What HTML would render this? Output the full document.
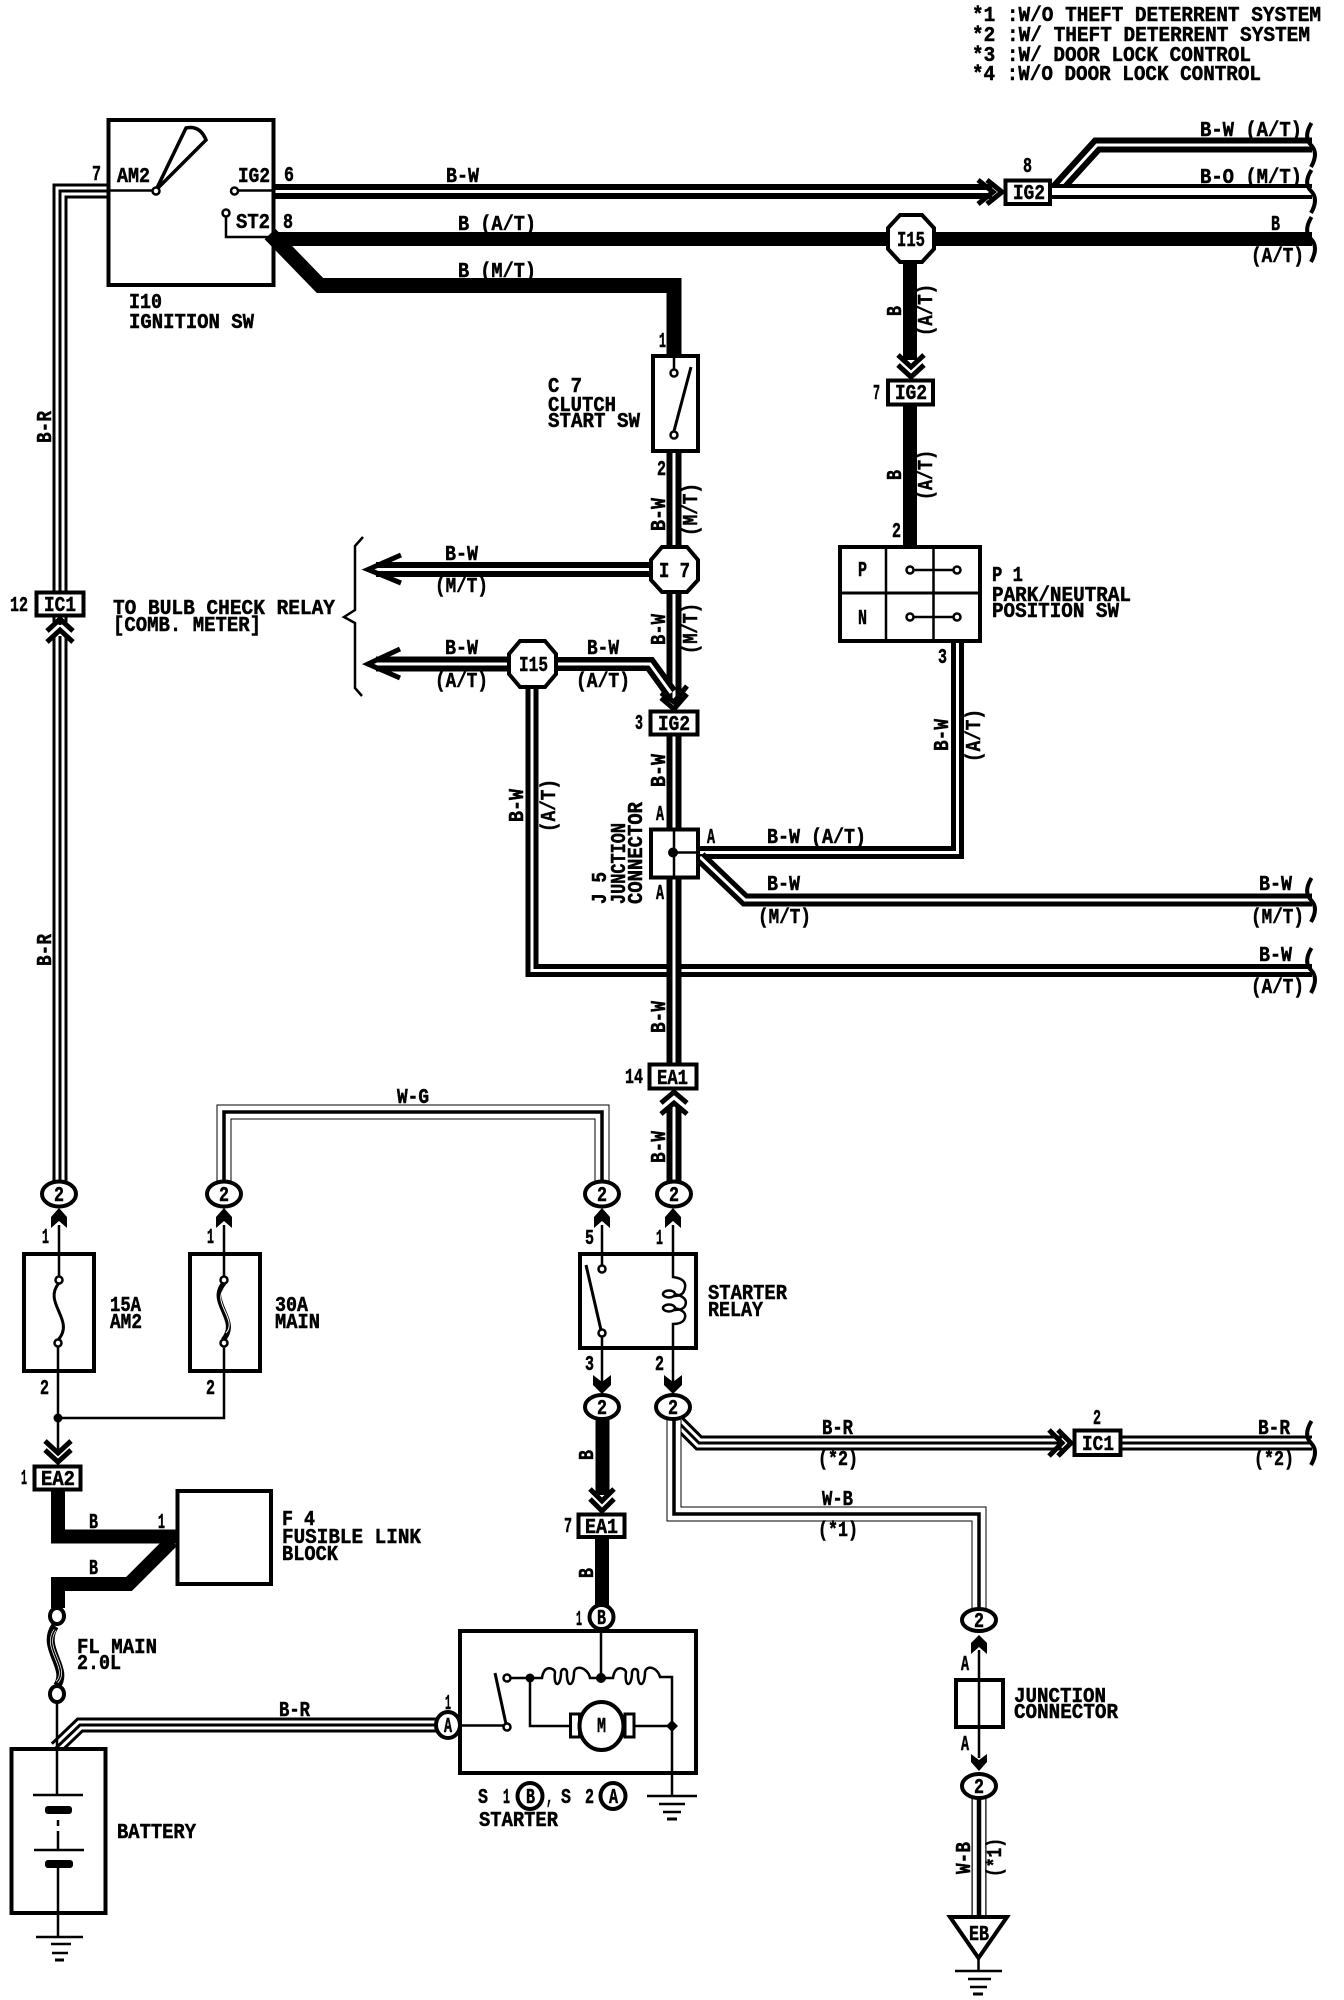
<!DOCTYPE html>
<html>
<head>
<meta charset="utf-8">
<style>
html,body{margin:0;padding:0;background:#fff;width:1344px;height:2000px;overflow:hidden}
svg{display:block}
text{font-family:"Liberation Mono","DejaVu Sans Mono",monospace;font-weight:bold;font-size:21px;fill:#000;stroke:#000;stroke-width:.5}
path,line,polyline{fill:none;stroke:#000;stroke-linejoin:miter}
.w{stroke:#fff}
.box{fill:#fff;stroke:#000;stroke-width:4}
.c{fill:#fff;stroke:#000;stroke-width:4}
.d{fill:#000;stroke:none}
</style>
</head>
<body>
<svg xmlns="http://www.w3.org/2000/svg" width="1344" height="2000" viewBox="0 0 1344 2000">
<rect width="1344" height="2000" fill="#fff"/>

<!-- WIRES -->
<path stroke-width="15" d="M108,191 H60 V625"/><path class="w" stroke-width="9" d="M108,191 H60 V625"/><path stroke-width="3" d="M108,191 H60 V625"/>
<path stroke-width="15" d="M60,636 V1184"/><path class="w" stroke-width="9" d="M60,636 V1184"/><path stroke-width="3" d="M60,636 V1184"/>
<path stroke-width="15" d="M274,191.5 H992"/><path class="w" stroke-width="3" d="M274,191.5 H992"/>
<path stroke-width="15" d="M1056,190 L1097,145 H1312"/><path class="w" stroke-width="3" d="M1056,190 L1097,145 H1312"/>
<path stroke-width="15" d="M1050,191.5 H1312"/><path class="w" stroke-width="7" d="M1050,191.5 H1312"/>
<path stroke-width="14" d="M274,239 H1312"/>
<path stroke-width="15" d="M270,234 L320,285.5 H674 V356"/>
<path stroke-width="14" d="M910,262 V360"/>
<path stroke-width="14" d="M910,405 V546"/>
<path stroke-width="13" d="M532,686 V970.5 H1312"/><path class="w" stroke-width="3" d="M532,686 V970.5 H1312"/>
<path stroke-width="15" d="M674,450 V546"/><path class="w" stroke-width="3" d="M674,450 V546"/>
<path stroke-width="15" d="M674,592 V700"/><path class="w" stroke-width="3" d="M674,592 V700"/>
<path stroke-width="15" d="M674,735 V829"/><path class="w" stroke-width="3" d="M674,735 V829"/>
<path stroke-width="15" d="M674,877 V1064"/><path class="w" stroke-width="3" d="M674,877 V1064"/>
<path stroke-width="15" d="M674,1106 V1182"/><path class="w" stroke-width="3" d="M674,1106 V1182"/>
<path stroke-width="15" d="M376,569.5 H650"/><path class="w" stroke-width="3" d="M372,569.5 H650"/>
<path stroke-width="15" d="M376,664 H510"/><path class="w" stroke-width="3" d="M372,664 H510"/>
<path stroke-width="14" d="M556,664 H650 L671,693"/><path class="w" stroke-width="3" d="M556,664 H650 L671,693"/>
<path stroke-width="13" d="M699,852.5 H957.5 V640"/><path class="w" stroke-width="3" d="M699,852.5 H957.5 V640"/>
<path stroke-width="13" d="M700,857 L745,900 H1312"/><path class="w" stroke-width="3" d="M700,857 L745,900 H1312"/>
<path stroke-width="15" d="M224,1185 V1112 H602 V1185"/><path class="w" stroke-width="13" d="M224,1185 V1112 H602 V1185"/><path stroke-width="3.5" d="M224,1185 V1112 H602 V1185"/>
<path stroke-width="15" d="M676,1420 L699,1443 H1062"/><path class="w" stroke-width="9" d="M676,1420 L699,1443 H1062"/><path stroke-width="3" d="M676,1420 L699,1443 H1062"/>
<path stroke-width="15" d="M1122,1443 H1312"/><path class="w" stroke-width="9" d="M1122,1443 H1312"/><path stroke-width="3" d="M1122,1443 H1312"/>
<path stroke-width="15" d="M674,1420 V1514 H979 V1610"/><path class="w" stroke-width="13" d="M674,1420 V1514 H979 V1610"/><path stroke-width="3.5" d="M674,1420 V1514 H979 V1610"/>
<path stroke-width="15" d="M979,1798 V1916"/><path class="w" stroke-width="12.5" d="M979,1798 V1916"/><path stroke-width="4.5" d="M979,1798 V1916"/>
<path stroke-width="14" d="M602.5,1418 V1495"/><path stroke-width="14" d="M602,1538 V1606"/>
<path stroke-width="14" stroke-linejoin="round" d="M58,1490 V1536.5 H178"/>
<path stroke-width="14" stroke-linejoin="round" d="M172,1541 L129,1584 H58 V1608"/>
<path stroke-width="15" d="M56,1748 L80,1725 H438"/><path class="w" stroke-width="9" d="M56,1748 L80,1725 H438"/><path stroke-width="3" d="M56,1748 L80,1725 H438"/>

<!-- BREAK MARKS -->
<g stroke-width="4">
<path d="M1311.5,123 Q1303,137 1311,145 Q1319,153 1311,167"/>
<path d="M1311.5,170 Q1303,183 1311,191 Q1319,199 1311,213"/>
<path d="M1311.5,217 Q1303,231 1311,239 Q1319,247 1311,262"/>
<path d="M1311.5,878 Q1303,892 1311,900 Q1319,908 1311,922"/>
<path d="M1311.5,948 Q1303,962 1311,970 Q1319,978 1311,993"/>
<path d="M1311.5,1421 Q1303,1435 1311,1443 Q1319,1451 1311,1465"/>
</g>

<path stroke-width="2.5" d="M363,537 L355,546 V610 L344,617 L355,623 V688 L362,696"/>

<!-- IGNITION SW -->
<rect class="box" x="108.5" y="120" width="165" height="165" style="fill:none"/>
<path stroke-width="2.5" d="M108,190.5 H152"/>
<path stroke-width="3.5" d="M156,190 L186,128 Q200,125 206,140 L156,190 Z"/>
<circle class="c" cx="156" cy="191" r="3.5" style="stroke-width:2.5"/>
<path stroke-width="2.5" d="M238,190.5 H272"/>
<circle class="c" cx="234.5" cy="191" r="3.5" style="stroke-width:2.5"/>
<path stroke-width="2.5" d="M226,216 V237 H274"/>
<circle class="c" cx="226" cy="213" r="3.5" style="stroke-width:2.5"/>

<!-- chevrons -->
<g stroke-width="5">
<path d="M978,180 L993,192 L978,204"/><path d="M987,180 L1002,192 L987,204"/>
<path d="M898,355 L911,367 L924,355"/><path d="M898,365 L911,377 L924,365"/>
<path d="M401,555 L368,569.5 L401,583"/>
<path d="M400,649 L368,664 L400,678"/>
<path d="M661,693 L674,702 L687,686"/><path d="M661,698 L674,709 L687,694"/>
<path d="M47,631 L60,619 L73,631"/><path d="M47,642 L60,630 L73,642"/>
<path d="M661,1103 L674,1092 L687,1103"/><path d="M661,1114 L674,1103 L687,1114"/>
<path d="M1049,1430 L1062,1443 L1049,1456"/><path d="M1058,1430 L1071,1443 L1058,1456"/>
<path d="M45,1441 L58,1453 L71,1441"/><path d="M45,1450 L58,1462 L71,1450"/>
<path d="M590,1489 L602,1501 L614,1489"/><path d="M590,1499 L602,1511 L614,1499"/>
</g>

<!-- C7 -->
<rect class="box" x="653" y="356" width="45" height="95"/>
<path stroke-width="2.5" d="M674,356 V369"/>
<path stroke-width="3" d="M691,367 L674,431"/>
<circle class="c" cx="674" cy="373" r="3.5" style="stroke-width:2.5"/>
<circle class="c" cx="674" cy="435" r="3.5" style="stroke-width:2.5"/>

<!-- Octagons -->
<polygon class="box" points="900,215 922,215 934,228 934,249 922,262 900,262 888,249 888,228"/>
<polygon class="box" points="662,547 687,547 698,560 698,580 687,592 662,592 651,580 651,560"/>
<polygon class="box" points="520,641 545,641 556,654 556,674 545,687 520,687 509,674 509,654"/>

<!-- Connectors -->
<rect class="box" x="1005.5" y="180.5" width="44.5" height="23.5"/>
<rect class="box" x="888" y="380.5" width="45" height="24"/>
<rect class="box" x="650.5" y="711.5" width="47" height="23"/>
<rect class="box" x="36.5" y="592.5" width="47" height="23"/>
<rect class="box" x="649.5" y="1064.5" width="47" height="24"/>
<rect class="box" x="34.5" y="1466.5" width="46" height="23"/>
<rect class="box" x="578.5" y="1514.5" width="46" height="22.5"/>
<rect class="box" x="1074.5" y="1430.5" width="46" height="24.5"/>

<!-- P1 -->
<rect class="box" x="840" y="547" width="140" height="94"/>
<path stroke-width="2.5" d="M886,547 V641 M933.5,547 V641"/>
<path stroke-width="3" d="M840,593 H980"/>
<path stroke-width="2.5" d="M910,570 H957 M910,617 H957"/>
<circle class="c" cx="910" cy="570" r="3.5" style="stroke-width:2.5"/>
<circle class="c" cx="957" cy="570" r="3.5" style="stroke-width:2.5"/>
<circle class="c" cx="910" cy="617" r="3.5" style="stroke-width:2.5"/>
<circle class="c" cx="957" cy="617" r="3.5" style="stroke-width:2.5"/>

<!-- J5 -->
<rect class="box" x="651" y="829.5" width="47" height="48"/>
<path stroke-width="2.5" d="M674,829 V878 M674,852.5 H699"/>
<circle class="d" cx="673" cy="852.5" r="5"/>

<!-- ellipses -->
<ellipse class="c" cx="59" cy="1194" rx="17" ry="12.5"/>
<ellipse class="c" cx="224" cy="1194" rx="17" ry="12.5"/>
<ellipse class="c" cx="602" cy="1194" rx="17" ry="12.5"/>
<ellipse class="c" cx="674" cy="1194" rx="17" ry="12.5"/>
<ellipse class="c" cx="602" cy="1407" rx="17" ry="12"/>
<ellipse class="c" cx="673" cy="1407" rx="17" ry="12"/>
<ellipse class="c" cx="979" cy="1620" rx="17" ry="11"/>
<ellipse class="c" cx="979" cy="1786" rx="17" ry="12"/>

<!-- small filled arrows -->
<polygon class="d" points="59,1208 67,1217 67,1228 59,1221 51,1228 51,1217"/>
<polygon class="d" points="224,1208 232,1217 232,1228 224,1221 216,1228 216,1217"/>
<polygon class="d" points="602,1208 610,1217 610,1228 602,1221 594,1228 594,1217"/>
<polygon class="d" points="673,1208 681,1217 681,1228 673,1221 665,1228 665,1217"/>
<polygon class="d" points="602,1394 611,1385 611,1375 602,1382 593,1375 593,1385"/>
<polygon class="d" points="673,1394 682,1385 682,1375 673,1382 664,1375 664,1385"/>
<polygon class="d" points="979,1635 987,1643 987,1654 979,1647 971,1654 971,1643"/>
<polygon class="d" points="979,1771 987,1762 987,1754 979,1760 971,1754 971,1762"/>

<!-- Fuses -->
<rect class="box" x="24" y="1254" width="70" height="117"/>
<rect class="box" x="190" y="1254" width="70" height="117"/>
<path stroke-width="2.5" d="M59,1225 V1277 M224,1225 V1277 M58,1346 V1452 M224,1346 V1418 H58"/>
<circle class="d" cx="58" cy="1418" r="4.5"/>
<path stroke-width="3" d="M59,1283 C42,1303 76,1320 58,1340"/>
<path stroke-width="5" d="M224,1283 C207,1303 241,1320 223,1340"/>
<path class="w" stroke-width="1" d="M224,1289 C212,1303 238,1320 226,1333"/>
<circle class="c" cx="59" cy="1280" r="3.5" style="stroke-width:2.5"/>
<circle class="c" cx="58" cy="1343" r="3.5" style="stroke-width:2.5"/>
<circle class="c" cx="224" cy="1280" r="3.5" style="stroke-width:2.5"/>
<circle class="c" cx="224" cy="1343" r="3.5" style="stroke-width:2.5"/>

<!-- Relay -->
<rect class="box" x="580" y="1254" width="116" height="94"/>
<path stroke-width="2.5" d="M602,1225 V1266 M602,1336 V1385"/>
<path stroke-width="3" d="M586,1265 L601,1330"/>
<circle class="c" cx="602" cy="1269" r="3.5" style="stroke-width:2.5"/>
<circle class="c" cx="602" cy="1333" r="3.5" style="stroke-width:2.5"/>
<path stroke-width="2.5" d="M673,1225 V1277 Q689,1279 684,1291 Q682,1296 674,1296 M674,1294 Q689,1297 685,1306 Q683,1310 674,1310 M674,1308 Q689,1311 684,1320 Q681,1324 673,1324 V1385"/>
<ellipse cx="669" cy="1294" rx="6" ry="3.5" fill="none" stroke="#000" stroke-width="2.5"/>
<ellipse cx="669" cy="1308" rx="6" ry="3.5" fill="none" stroke="#000" stroke-width="2.5"/>

<!-- Fusible block -->
<rect class="box" x="177.5" y="1491" width="93.5" height="93"/>

<!-- FL -->
<path stroke-width="8" d="M55,1626 C40,1648 70,1668 57,1686"/>
<path class="w" stroke-width="3" d="M55,1630 C42,1648 70,1668 57,1682"/>
<path stroke-width="1.5" d="M55,1630 C42,1648 70,1668 57,1682"/>
<ellipse class="c" cx="57" cy="1616" rx="7" ry="8"/>
<ellipse class="c" cx="57" cy="1694" rx="7" ry="8"/>

<!-- Battery -->
<rect class="box" x="11.5" y="1749" width="94" height="164"/>
<path stroke-width="2.5" d="M57,1702 V1795 M58,1820 V1826 M58,1831 V1850 M58,1868 V1937"/>
<path stroke-width="2.5" d="M33,1795 H83 M34,1850 H84"/>
<rect class="d" x="45" y="1806" width="27" height="8" rx="3"/>
<rect class="d" x="45" y="1860" width="28" height="8" rx="3"/>
<path stroke-width="2.5" d="M36,1937 H83"/><path stroke-width="2.5" d="M51,1944 H71 M52,1953 H68"/><path stroke-width="3" d="M55,1960 H64"/>

<!-- Starter -->
<rect class="box" x="460" y="1631" width="236" height="142"/>
<ellipse class="c" cx="448" cy="1725" rx="12" ry="13"/>
<ellipse class="c" cx="601.5" cy="1617" rx="12" ry="12"/>
<path stroke-width="2.5" d="M601,1629 V1678"/>
<path stroke-width="2.5" d="M461,1725.5 H504"/>
<path stroke-width="3" d="M495,1673 L506,1724"/>
<circle class="c" cx="507" cy="1727" r="3.5" style="stroke-width:2.5"/>
<circle class="c" cx="507" cy="1678" r="3.5" style="stroke-width:2.5"/>
<path stroke-width="2.5" d="M511,1678 H530 V1726 H570"/>
<circle class="d" cx="530" cy="1678" r="4.5"/>
<circle class="d" cx="601" cy="1678" r="5"/>
<path stroke-width="2.5" d="M530,1678 H542 C544,1664 554,1668 555,1672 C553,1688 561,1688 561,1672 C562,1668 566,1668 567,1672 C566,1688 574,1688 574,1672 C576,1664 588,1668 590,1678 H613 C615,1664 625,1668 626,1672 C624,1688 632,1688 632,1672 C633,1668 637,1668 638,1672 C637,1688 645,1688 645,1672 C647,1664 658,1668 660,1677 H672 V1796"/>
<path stroke-width="2.5" d="M635,1726 H672"/>
<polygon class="d" points="672,1720 678,1726 672,1732 666,1726"/>
<rect class="box" x="570.5" y="1714" width="9" height="23" style="stroke-width:3"/>
<rect class="box" x="625" y="1714" width="9" height="23" style="stroke-width:3"/>
<ellipse class="c" cx="601.5" cy="1726" rx="22" ry="24"/>
<path stroke-width="2.5" d="M647,1796 H697 M659,1804 H685 M663,1812 H681"/><path stroke-width="3" d="M667,1819 H677"/>
<ellipse class="c" cx="530" cy="1796" rx="12.5" ry="13"/>
<ellipse class="c" cx="613" cy="1796" rx="12.5" ry="13"/>

<!-- Junction connector right -->
<rect class="box" x="956" y="1680" width="47" height="47"/>
<path stroke-width="2.5" d="M979,1650 V1758"/>
<!-- EB -->
<polygon class="box" points="950,1917 1007,1917 978.5,1958"/>
<path stroke-width="2.5" d="M978.5,1958 V1971"/>
<path stroke-width="2.5" d="M955,1971 H1002 M968,1979 H991 M970,1987 H987"/><path stroke-width="3" d="M973,1994 H983"/>

<!-- TEXT -->
<g>
<text x="972" y="21" textLength="349" lengthAdjust="spacingAndGlyphs">*1 :W/O THEFT DETERRENT SYSTEM</text>
<text x="972" y="41" textLength="338" lengthAdjust="spacingAndGlyphs">*2 :W/ THEFT DETERRENT SYSTEM</text>
<text x="972" y="61" textLength="279" lengthAdjust="spacingAndGlyphs">*3 :W/ DOOR LOCK CONTROL</text>
<text x="972" y="80" textLength="289" lengthAdjust="spacingAndGlyphs">*4 :W/O DOOR LOCK CONTROL</text>

<text x="92" y="180" textLength="9" lengthAdjust="spacingAndGlyphs">7</text>
<text x="117" y="182" textLength="33" lengthAdjust="spacingAndGlyphs">AM2</text>
<text x="238" y="182" textLength="32" lengthAdjust="spacingAndGlyphs">IG2</text>
<text x="284" y="181" textLength="10" lengthAdjust="spacingAndGlyphs">6</text>
<text x="446" y="182" textLength="33" lengthAdjust="spacingAndGlyphs">B-W</text>
<text x="236" y="228" textLength="34" lengthAdjust="spacingAndGlyphs">ST2</text>
<text x="283" y="228" textLength="10" lengthAdjust="spacingAndGlyphs">8</text>
<text x="458" y="230" textLength="78" lengthAdjust="spacingAndGlyphs">B (A/T)</text>
<text x="458" y="277" textLength="78" lengthAdjust="spacingAndGlyphs">B (M/T)</text>
<text x="129" y="308" textLength="33" lengthAdjust="spacingAndGlyphs">I10</text>
<text x="129" y="328" textLength="125" lengthAdjust="spacingAndGlyphs">IGNITION SW</text>
<text x="548" y="392" textLength="34" lengthAdjust="spacingAndGlyphs">C 7</text>
<text x="548" y="411" textLength="68" lengthAdjust="spacingAndGlyphs">CLUTCH</text>
<text x="548" y="427" textLength="92" lengthAdjust="spacingAndGlyphs">START SW</text>
<text x="659" y="347" textLength="7" lengthAdjust="spacingAndGlyphs">1</text>
<text x="657" y="475" textLength="9" lengthAdjust="spacingAndGlyphs">2</text>

<text transform="translate(51,443) rotate(-90)" textLength="32" lengthAdjust="spacingAndGlyphs">B-R</text>
<text transform="translate(51,966) rotate(-90)" textLength="32" lengthAdjust="spacingAndGlyphs">B-R</text>

<text x="1023" y="172" textLength="9" lengthAdjust="spacingAndGlyphs">8</text>
<text x="1013" y="199" textLength="32" lengthAdjust="spacingAndGlyphs">IG2</text>
<text x="1200" y="136" textLength="102" lengthAdjust="spacingAndGlyphs">B-W (A/T)</text>
<text x="1200" y="183" textLength="102" lengthAdjust="spacingAndGlyphs">B-O (M/T)</text>
<text x="1271" y="230" textLength="9" lengthAdjust="spacingAndGlyphs">B</text>
<text x="1251" y="262" textLength="53" lengthAdjust="spacingAndGlyphs">(A/T)</text>
<text x="897" y="246" textLength="28" lengthAdjust="spacingAndGlyphs">I15</text>
<text x="873" y="399" textLength="7" lengthAdjust="spacingAndGlyphs">7</text>
<text x="895" y="399" textLength="32" lengthAdjust="spacingAndGlyphs">IG2</text>
<text transform="translate(901,316) rotate(-90)" textLength="10" lengthAdjust="spacingAndGlyphs">B</text>
<text transform="translate(932,336) rotate(-90)" textLength="52" lengthAdjust="spacingAndGlyphs">(A/T)</text>
<text transform="translate(901,480) rotate(-90)" textLength="10" lengthAdjust="spacingAndGlyphs">B</text>
<text transform="translate(932,500) rotate(-90)" textLength="50" lengthAdjust="spacingAndGlyphs">(A/T)</text>
<text x="892" y="537" textLength="9" lengthAdjust="spacingAndGlyphs">2</text>
<text x="858" y="576" textLength="9" lengthAdjust="spacingAndGlyphs">P</text>
<text x="858" y="624" textLength="9" lengthAdjust="spacingAndGlyphs">N</text>
<text x="992" y="581" textLength="31" lengthAdjust="spacingAndGlyphs">P 1</text>
<text x="992" y="601" textLength="139" lengthAdjust="spacingAndGlyphs">PARK/NEUTRAL</text>
<text x="992" y="617" textLength="127" lengthAdjust="spacingAndGlyphs">POSITION SW</text>
<text x="938" y="663" textLength="9" lengthAdjust="spacingAndGlyphs">3</text>
<text transform="translate(948,751) rotate(-90)" textLength="32" lengthAdjust="spacingAndGlyphs">B-W</text>
<text transform="translate(980,762) rotate(-90)" textLength="53" lengthAdjust="spacingAndGlyphs">(A/T)</text>

<text x="113" y="614" textLength="222" lengthAdjust="spacingAndGlyphs">TO BULB CHECK RELAY</text>
<text x="113" y="631" textLength="148" lengthAdjust="spacingAndGlyphs">[COMB. METER]</text>
<text x="10" y="611" textLength="18" lengthAdjust="spacingAndGlyphs">12</text>
<text x="44" y="611" textLength="32" lengthAdjust="spacingAndGlyphs">IC1</text>

<text x="445" y="560" textLength="33" lengthAdjust="spacingAndGlyphs">B-W</text>
<text x="435" y="592" textLength="53" lengthAdjust="spacingAndGlyphs">(M/T)</text>
<text x="445" y="654" textLength="33" lengthAdjust="spacingAndGlyphs">B-W</text>
<text x="435" y="687" textLength="53" lengthAdjust="spacingAndGlyphs">(A/T)</text>
<text x="587" y="654" textLength="32" lengthAdjust="spacingAndGlyphs">B-W</text>
<text x="576" y="687" textLength="54" lengthAdjust="spacingAndGlyphs">(A/T)</text>
<text x="659" y="577" textLength="31" lengthAdjust="spacingAndGlyphs">I 7</text>
<text x="519" y="671" textLength="29" lengthAdjust="spacingAndGlyphs">I15</text>
<text x="658" y="730" textLength="32" lengthAdjust="spacingAndGlyphs">IG2</text>
<text x="635" y="729" textLength="8" lengthAdjust="spacingAndGlyphs">3</text>

<text transform="translate(665,531) rotate(-90)" textLength="33" lengthAdjust="spacingAndGlyphs">B-W</text>
<text transform="translate(697,536) rotate(-90)" textLength="53" lengthAdjust="spacingAndGlyphs">(M/T)</text>
<text transform="translate(665,645) rotate(-90)" textLength="31" lengthAdjust="spacingAndGlyphs">B-W</text>
<text transform="translate(697,654) rotate(-90)" textLength="51" lengthAdjust="spacingAndGlyphs">(M/T)</text>
<text transform="translate(665,787) rotate(-90)" textLength="33" lengthAdjust="spacingAndGlyphs">B-W</text>
<text transform="translate(523,822) rotate(-90)" textLength="33" lengthAdjust="spacingAndGlyphs">B-W</text>
<text transform="translate(555,832) rotate(-90)" textLength="53" lengthAdjust="spacingAndGlyphs">(A/T)</text>
<text transform="translate(606,904) rotate(-90)" textLength="32" lengthAdjust="spacingAndGlyphs">J 5</text>
<text transform="translate(625,904) rotate(-90)" textLength="81" lengthAdjust="spacingAndGlyphs">JUNCTION</text>
<text transform="translate(642,904) rotate(-90)" textLength="102" lengthAdjust="spacingAndGlyphs">CONNECTOR</text>
<text x="656" y="820" textLength="8" lengthAdjust="spacingAndGlyphs">A</text>
<text x="656" y="899" textLength="8" lengthAdjust="spacingAndGlyphs">A</text>
<text x="707" y="843" textLength="8" lengthAdjust="spacingAndGlyphs">A</text>
<text x="767" y="843" textLength="99" lengthAdjust="spacingAndGlyphs">B-W (A/T)</text>
<text x="767" y="890" textLength="33" lengthAdjust="spacingAndGlyphs">B-W</text>
<text x="758" y="923" textLength="53" lengthAdjust="spacingAndGlyphs">(M/T)</text>
<text x="1259" y="890" textLength="33" lengthAdjust="spacingAndGlyphs">B-W</text>
<text x="1251" y="923" textLength="53" lengthAdjust="spacingAndGlyphs">(M/T)</text>
<text x="1259" y="961" textLength="33" lengthAdjust="spacingAndGlyphs">B-W</text>
<text x="1251" y="993" textLength="53" lengthAdjust="spacingAndGlyphs">(A/T)</text>

<text x="625" y="1083" textLength="18" lengthAdjust="spacingAndGlyphs">14</text>
<text x="657" y="1084" textLength="31" lengthAdjust="spacingAndGlyphs">EA1</text>
<text transform="translate(665,1033) rotate(-90)" textLength="32" lengthAdjust="spacingAndGlyphs">B-W</text>
<text transform="translate(665,1163) rotate(-90)" textLength="32" lengthAdjust="spacingAndGlyphs">B-W</text>
<text x="397" y="1103" textLength="32" lengthAdjust="spacingAndGlyphs">W-G</text>

<text x="54" y="1201" textLength="10" lengthAdjust="spacingAndGlyphs">2</text>
<text x="219" y="1201" textLength="10" lengthAdjust="spacingAndGlyphs">2</text>
<text x="597" y="1201" textLength="10" lengthAdjust="spacingAndGlyphs">2</text>
<text x="669" y="1201" textLength="10" lengthAdjust="spacingAndGlyphs">2</text>
<text x="597" y="1414" textLength="10" lengthAdjust="spacingAndGlyphs">2</text>
<text x="668" y="1414" textLength="10" lengthAdjust="spacingAndGlyphs">2</text>
<text x="974" y="1627" textLength="10" lengthAdjust="spacingAndGlyphs">2</text>
<text x="974" y="1793" textLength="10" lengthAdjust="spacingAndGlyphs">2</text>

<text x="42" y="1243" textLength="7" lengthAdjust="spacingAndGlyphs">1</text>
<text x="207" y="1243" textLength="7" lengthAdjust="spacingAndGlyphs">1</text>
<text x="585" y="1244" textLength="9" lengthAdjust="spacingAndGlyphs">5</text>
<text x="656" y="1244" textLength="7" lengthAdjust="spacingAndGlyphs">1</text>
<text x="110" y="1311" textLength="31" lengthAdjust="spacingAndGlyphs">15A</text>
<text x="110" y="1328" textLength="32" lengthAdjust="spacingAndGlyphs">AM2</text>
<text x="275" y="1311" textLength="33" lengthAdjust="spacingAndGlyphs">30A</text>
<text x="275" y="1328" textLength="45" lengthAdjust="spacingAndGlyphs">MAIN</text>
<text x="40" y="1394" textLength="9" lengthAdjust="spacingAndGlyphs">2</text>
<text x="206" y="1394" textLength="9" lengthAdjust="spacingAndGlyphs">2</text>
<text x="708" y="1299" textLength="79" lengthAdjust="spacingAndGlyphs">STARTER</text>
<text x="708" y="1316" textLength="55" lengthAdjust="spacingAndGlyphs">RELAY</text>
<text x="585" y="1370" textLength="9" lengthAdjust="spacingAndGlyphs">3</text>
<text x="655" y="1370" textLength="9" lengthAdjust="spacingAndGlyphs">2</text>
<text transform="translate(593,1460) rotate(-90)" textLength="10" lengthAdjust="spacingAndGlyphs">B</text>
<text transform="translate(593,1578) rotate(-90)" textLength="10" lengthAdjust="spacingAndGlyphs">B</text>
<text x="564" y="1532" textLength="8" lengthAdjust="spacingAndGlyphs">7</text>
<text x="585" y="1533" textLength="33" lengthAdjust="spacingAndGlyphs">EA1</text>

<text x="21" y="1484" textLength="6" lengthAdjust="spacingAndGlyphs">1</text>
<text x="41" y="1485" textLength="34" lengthAdjust="spacingAndGlyphs">EA2</text>
<text x="89" y="1528" textLength="9" lengthAdjust="spacingAndGlyphs">B</text>
<text x="89" y="1574" textLength="9" lengthAdjust="spacingAndGlyphs">B</text>
<text x="158" y="1528" textLength="7" lengthAdjust="spacingAndGlyphs">1</text>
<text x="282" y="1525" textLength="33" lengthAdjust="spacingAndGlyphs">F 4</text>
<text x="282" y="1543" textLength="139" lengthAdjust="spacingAndGlyphs">FUSIBLE LINK</text>
<text x="282" y="1560" textLength="56" lengthAdjust="spacingAndGlyphs">BLOCK</text>
<text x="77" y="1653" textLength="80" lengthAdjust="spacingAndGlyphs">FL MAIN</text>
<text x="77" y="1669" textLength="44" lengthAdjust="spacingAndGlyphs">2.0L</text>
<text x="279" y="1716" textLength="31" lengthAdjust="spacingAndGlyphs">B-R</text>
<text x="117" y="1838" textLength="79" lengthAdjust="spacingAndGlyphs">BATTERY</text>
<text x="444" y="1732" textLength="8" lengthAdjust="spacingAndGlyphs">A</text>
<text x="445" y="1709" textLength="6" lengthAdjust="spacingAndGlyphs">1</text>
<text x="597" y="1624" textLength="9" lengthAdjust="spacingAndGlyphs">B</text>
<text x="576" y="1625" textLength="6" lengthAdjust="spacingAndGlyphs">1</text>
<text x="597" y="1732" textLength="9" lengthAdjust="spacingAndGlyphs">M</text>

<text x="478" y="1803" textLength="10" lengthAdjust="spacingAndGlyphs">S</text>
<text x="503" y="1803" textLength="7" lengthAdjust="spacingAndGlyphs">1</text>
<text x="526" y="1803" textLength="9" lengthAdjust="spacingAndGlyphs">B</text>
<text x="546" y="1803" textLength="7" lengthAdjust="spacingAndGlyphs">,</text>
<text x="561" y="1803" textLength="10" lengthAdjust="spacingAndGlyphs">S</text>
<text x="585" y="1803" textLength="9" lengthAdjust="spacingAndGlyphs">2</text>
<text x="609" y="1803" textLength="9" lengthAdjust="spacingAndGlyphs">A</text>
<text x="479" y="1826" textLength="79" lengthAdjust="spacingAndGlyphs">STARTER</text>

<text x="822" y="1434" textLength="31" lengthAdjust="spacingAndGlyphs">B-R</text>
<text x="818" y="1465" textLength="40" lengthAdjust="spacingAndGlyphs">(*2)</text>
<text x="822" y="1505" textLength="31" lengthAdjust="spacingAndGlyphs">W-B</text>
<text x="818" y="1536" textLength="40" lengthAdjust="spacingAndGlyphs">(*1)</text>
<text x="1093" y="1424" textLength="8" lengthAdjust="spacingAndGlyphs">2</text>
<text x="1082" y="1450" textLength="32" lengthAdjust="spacingAndGlyphs">IC1</text>
<text x="1258" y="1434" textLength="32" lengthAdjust="spacingAndGlyphs">B-R</text>
<text x="1254" y="1465" textLength="40" lengthAdjust="spacingAndGlyphs">(*2)</text>
<text x="961" y="1670" textLength="8" lengthAdjust="spacingAndGlyphs">A</text>
<text x="961" y="1750" textLength="8" lengthAdjust="spacingAndGlyphs">A</text>
<text x="1014" y="1702" textLength="92" lengthAdjust="spacingAndGlyphs">JUNCTION</text>
<text x="1014" y="1718" textLength="104" lengthAdjust="spacingAndGlyphs">CONNECTOR</text>
<text transform="translate(970,1874) rotate(-90)" textLength="32" lengthAdjust="spacingAndGlyphs">W-B</text>
<text transform="translate(1001,1877) rotate(-90)" textLength="39" lengthAdjust="spacingAndGlyphs">(*1)</text>
<text x="969" y="1940" textLength="20" lengthAdjust="spacingAndGlyphs">EB</text>
</g>
</svg>
</body>
</html>
